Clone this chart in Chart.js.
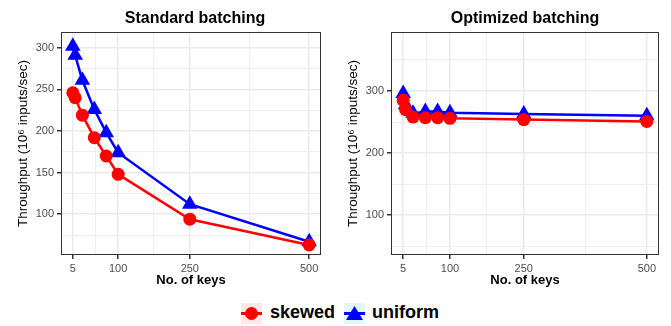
<!DOCTYPE html>
<html>
<head>
<meta charset="utf-8">
<script src="https://cdn.jsdelivr.net/npm/chart.js@4"></script>
<style>
  body { margin: 0; background: #fff; font-family: "Liberation Sans", Arial, sans-serif; }
  #wrap { position: relative; width: 671px; height: 326px; }
  canvas { position: absolute; top: 0; }
  .ptitle { position: absolute; top: 9px; font-size: 16px; font-weight: bold; text-align: center; color: #000; }
  .key { position: absolute; top: 303px; width: 21px; height: 21px; }
  .key .ln { position: absolute; left: 0; right: 0; top: 9px; height: 2.5px; }
  .lab { position: absolute; top: 302px; font-size: 18px; font-weight: bold; color: #000; }
</style>
</head>
<body>
<div id="wrap">
  <canvas id="cvs_std" width="330" height="290" style="left:0"></canvas>
  <canvas id="cvs_opt" width="341" height="290" style="left:330px"></canvas>
  <div class="ptitle" style="left:61px;width:268px">Standard batching</div>
  <div class="ptitle" style="left:391px;width:268px">Optimized batching</div>

  <div class="key" style="left:241px;background:#fde8e8">
    <div class="ln" style="background:#ff0000"></div>
    <div style="position:absolute;left:4px;top:4px;width:13px;height:13px;border-radius:50%;background:#ff0000"></div>
  </div>
  <div class="lab" style="left:270px">skewed</div>
  <div class="key" style="left:344px;background:#e2f7f8">
    <div class="ln" style="background:#0000ff"></div>
    <div style="position:absolute;left:2px;top:3px;width:17px;height:14px;background:#0000ff;clip-path:polygon(50% 0,100% 100%,0 100%)"></div>
  </div>
  <div class="lab" style="left:372px">uniform</div>
</div>

<script>
var keys = [5, 10, 25, 50, 75, 100, 250, 500];

var stdSkewed  = [246, 240, 219, 192, 170, 148, 94, 63];
var stdUniform = [302, 291, 261, 226, 198, 174, 112, 67];

var optSkewed  = [285, 270, 258, 257, 257, 256, 254, 251];
var optUniform = [296, 278, 264, 267, 267, 265, 263, 260];

var xTicks = [5, 100, 250, 500];
var xMinor = [52.5, 175, 375];
var stdYTicks = [100, 150, 200, 250, 300];
var stdYMinor = [75, 125, 175, 225, 275];
var optYTicks = [100, 200, 300];
var optYMinor = [50, 150, 250, 350];

var red = '#ff0000';
var blue = '#0000ff';
var font = '"Liberation Sans", Arial, sans-serif';
var gridCol = '#ebebeb';

// panel border like ggplot theme_bw
var frame = {
    id: 'frame',
    afterDraw: function(chart) {
        var a = chart.chartArea, ctx = chart.ctx;
        ctx.save();
        ctx.strokeStyle = '#333333';
        ctx.lineWidth = 1;
        ctx.strokeRect(Math.round(a.left) + 0.5, Math.round(a.top) + 0.5,
                       Math.round(a.right - a.left) - 1, Math.round(a.bottom - a.top) - 1);
        ctx.restore();
    }
};

function pts(ys) {
    return keys.map(function(k, i) { return {x: k, y: ys[i]}; });
}

function makeAxis(major, minor, extra) {
    var all = major.concat(minor).sort(function(a, b) { return a - b; });
    var isMajor = function(v) { return major.indexOf(v) >= 0; };
    var ax = {
        type: 'linear',
        afterBuildTicks: function(axis) {
            axis.ticks = all.map(function(v) { return {value: v}; });
        },
        ticks: {
            autoSkip: false,
            maxRotation: 0,
            padding: 3,
            color: '#4d4d4d',
            font: {family: font, size: 11},
            callback: function(v) { return isMajor(v) ? String(v) : ''; }
        },
        grid: {
            color: gridCol,
            lineWidth: function(c) { return c.tick && isMajor(c.tick.value) ? 1.5 : 0.8; },
            tickColor: function(c) { return c.tick && isMajor(c.tick.value) ? '#333333' : 'rgba(0,0,0,0)'; },
            tickLength: 4
        },
        border: {display: false}
    };
    for (var k in extra) ax[k] = extra[k];
    return ax;
}

function makeChart(id, skewed, uniform, yMajor, yMinor, yMin, yMax, padRight) {
    return new Chart(document.getElementById(id), {
        type: 'line',
        data: {
            datasets: [{
                label: 'skewed',
                data: pts(skewed),
                borderColor: red,
                backgroundColor: red,
                borderWidth: 2.5,
                pointStyle: 'circle',
                pointRadius: 6.5,
                pointBorderWidth: 0,
                tension: 0
            }, {
                label: 'uniform',
                data: pts(uniform),
                borderColor: blue,
                backgroundColor: blue,
                borderWidth: 2.5,
                pointStyle: 'triangle',
                pointRadius: 9,
                pointBorderWidth: 0,
                tension: 0
            }]
        },
        options: {
            responsive: false,
            animation: false,
            clip: false,
            layout: {padding: {top: 32, left: 0, right: padRight, bottom: 0}},
            plugins: {
                legend: {display: false},
                tooltip: {enabled: false},
                title: {display: false}
            },
            scales: {
                x: makeAxis(xTicks, xMinor, {
                    min: -19.75, max: 524.75,
                    afterFit: function(axis) { axis.height = 35; },
                    title: {
                        display: true,
                        text: 'No. of keys',
                        color: '#000',
                        font: {family: font, size: 13, weight: 'bold'},
                        padding: {top: 0, bottom: 2}
                    }
                }),
                y: makeAxis(yMajor, yMinor, {
                    min: yMin, max: yMax,
                    afterFit: function(axis) { axis.width = 61; },
                    title: {
                        display: true,
                        text: 'Throughput (10\u2076 inputs/sec)',
                        color: '#000',
                        font: {family: font, size: 13.5},
                        padding: {top: 15, bottom: 0}
                    }
                })
            }
        },
        plugins: [frame]
    });
}

window.onload = function() {
    window.stdChart = makeChart('cvs_std', stdSkewed, stdUniform, stdYTicks, stdYMinor, 51, 319, 1);
    window.optChart = makeChart('cvs_opt', optSkewed, optUniform, optYTicks, optYMinor, 36, 395, 12);
};
</script>
</body>
</html>
